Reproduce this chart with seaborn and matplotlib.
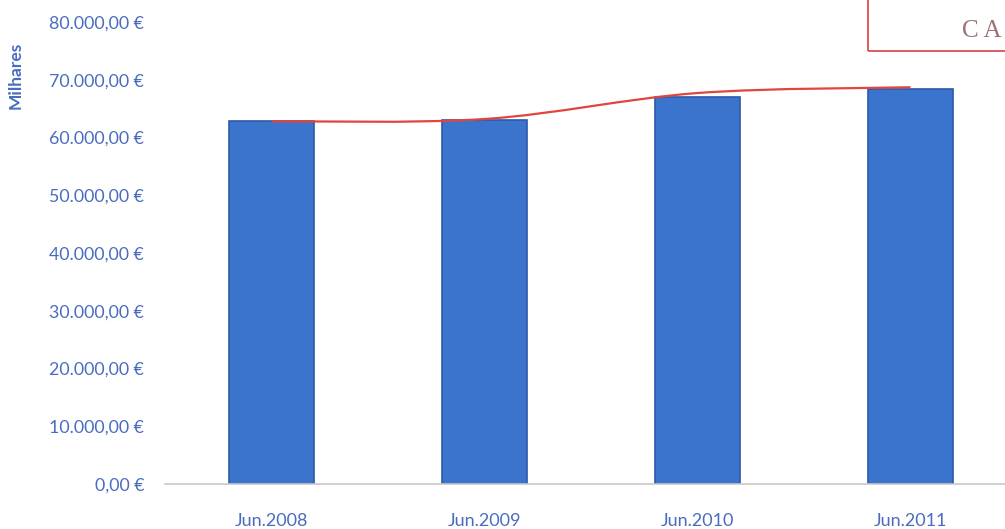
import matplotlib
matplotlib.use("Agg")
import matplotlib.pyplot as plt
import matplotlib.patches as mpatches
from matplotlib.path import Path
import seaborn as sns
import pandas as pd

# ---- Data ---------------------------------------------------
periods = ["Jun.2008", "Jun.2009", "Jun.2010", "Jun.2011"]
values = [62900, 63000, 67000, 68400]      # thousands of euros (bars)
trend = [62800, 63200, 67700, 68700]       # smoothed red trend line
y_ticks = [0, 10000, 20000, 30000, 40000, 50000, 60000, 70000, 80000]

blue_text = "#4a6cc0"

sns.set_style("white")
plt.rcParams["font.family"] = ["Lato", "DejaVu Sans"]

df = pd.DataFrame({"period": periods, "value": values})

fig = plt.figure(figsize=(10.05, 5.29), dpi=100)
ax = fig.add_axes([165 / 1005, 45 / 529, 852 / 1005, 462 / 529])

sns.barplot(data=df, x="period", y="value", color="#3b74cc", width=0.40,
            edgecolor="#2c5aa8", linewidth=1.2, saturation=1, ax=ax)

# smooth trend line (Catmull-Rom -> cubic Bezier through the points)
xs = list(range(len(trend)))
verts = [(xs[0], trend[0])]
codes = [Path.MOVETO]
for i in range(len(trend) - 1):
    p0 = (xs[max(i - 1, 0)], trend[max(i - 1, 0)])
    p1 = (xs[i], trend[i])
    p2 = (xs[i + 1], trend[i + 1])
    p3 = (xs[min(i + 2, len(trend) - 1)], trend[min(i + 2, len(trend) - 1)])
    c1 = (p1[0] + (p2[0] - p0[0]) / 6, p1[1] + (p2[1] - p0[1]) / 6)
    c2 = (p2[0] - (p3[0] - p1[0]) / 6, p2[1] - (p3[1] - p1[1]) / 6)
    verts += [c1, c2, p2]
    codes += [Path.CURVE4] * 3
ax.add_patch(mpatches.PathPatch(Path(verts, codes), fill=False,
                                edgecolor="#e0453f", linewidth=1.6, zorder=5))

ax.set_xlim(-0.5, 3.5)
ax.set_ylim(0, 80000)
ax.set_yticks(y_ticks)
ax.set_yticklabels([f"{v:,.2f}".replace(",", "X").replace(".", ",").replace("X", ".") + " €"
                    for v in y_ticks])
ax.tick_params(axis="y", length=0, labelsize=12.8, labelcolor=blue_text, pad=15)
ax.tick_params(axis="x", length=0, labelsize=13, labelcolor=blue_text, pad=21)
ax.set_xlabel("")
ax.set_ylabel("Milhares", fontsize=12.5, fontweight="bold", color=blue_text)
ax.yaxis.set_label_coords(-0.166, 0.885)

for side in ["top", "right", "left"]:
    ax.spines[side].set_visible(False)
ax.spines["bottom"].set_color("#c8c8c8")
ax.spines["bottom"].set_linewidth(1.2)

# cropped red note box in the top-right corner
fig.patches.append(mpatches.Rectangle((868 / 1005, 478 / 529), 0.2, 0.2,
                                      transform=fig.transFigure, fill=False,
                                      edgecolor="#d9404a", linewidth=1.2))
fig.text(962 / 1005, 498 / 529, "C A", fontsize=18, color="#a07070",
         family=["Liberation Serif", "DejaVu Serif"], va="center", ha="left")

plt.savefig("out.png", dpi=100)
plt.close()
